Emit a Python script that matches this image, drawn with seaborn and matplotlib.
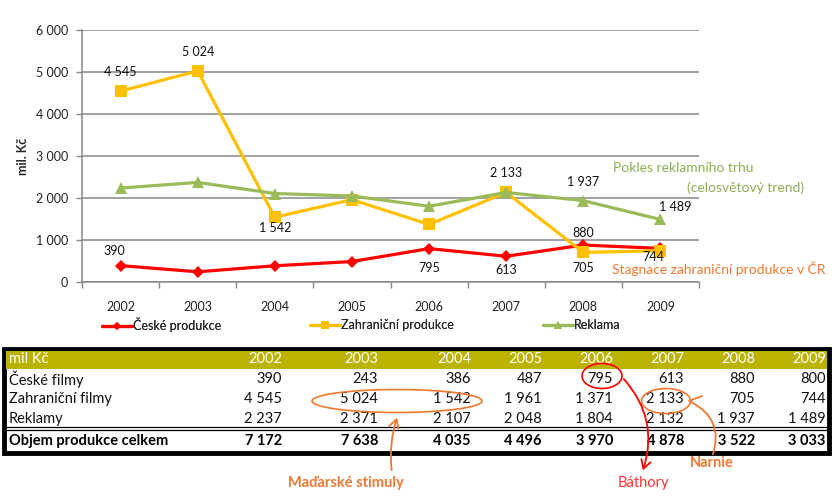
import matplotlib
matplotlib.use("Agg")
import matplotlib.pyplot as plt
from matplotlib.lines import Line2D
from matplotlib.patches import Ellipse, FancyArrowPatch, Rectangle
import numpy as np
import pandas as pd
import seaborn as sns

W, H = 837, 500

years = [2002, 2003, 2004, 2005, 2006, 2007, 2008, 2009]
ceske = [390, 243, 386, 487, 795, 613, 880, 800]
zahranicni = [4545, 5024, 1542, 1961, 1371, 2133, 705, 744]
reklama = [2237, 2371, 2107, 2048, 1804, 2132, 1937, 1489]
celkem = [7172, 7638, 4035, 4496, 3970, 4878, 3522, 3033]

series_names = ["České produkce", "Zahraniční produkce", "Reklama"]
row_names = ["České filmy", "Zahraniční filmy", "Reklamy"]
total_name = "Objem produkce celkem"
y_ticks = [0, 1000, 2000, 3000, 4000, 5000, 6000]

# (series, year index, dx px, dy px) for data labels
labels = [
    (1, 0, 0, 19), (1, 1, 0, 19), (1, 2, 0, -11), (1, 5, 0, 19),
    (1, 6, 0, -16), (1, 7, -7, -6),
    (2, 6, 0, 19), (2, 7, 15, 12),
    (0, 0, -6, 15), (0, 4, 0, -19), (0, 5, 0, -14), (0, 6, 0, 12),
]

RED, YEL, GRN = "#FF0000", "#FFC000", "#9BBB59"
GRID = "#878787"
ORANGE = "#F07830"
OLIVE = "#BBB300"


def fmt(v):
    return f"{v:,}".replace(",", " ")


def fx(x):
    return x / W


def fy(y):
    return 1 - y / H


sns.set_theme(style="white")
plt.rcParams["font.family"] = ["Lato", "DejaVu Sans"]

df = pd.DataFrame({
    "year": years * 3,
    "value": ceske + zahranicni + reklama,
    "series": np.repeat(series_names, len(years)),
})

fig = plt.figure(figsize=(W / 100, H / 100), dpi=100)
ax = fig.add_axes([fx(82), fy(282), (699 - 82) / W, 252 / H])

styles = [(RED, "D", 6.5), (YEL, "s", 8.5), (GRN, "^", 8.5)]
for name, (col, mk, ms) in zip(series_names, styles):
    sns.lineplot(data=df[df["series"] == name], x="year", y="value", ax=ax,
                 color=col, marker=mk, markersize=ms, markeredgewidth=0,
                 linewidth=2.3, legend=False)

FS = 9
ax.set_xlim(2001.5, 2009.5)
ax.set_ylim(0, 6000)
ax.set_yticks(y_ticks)
ax.set_yticklabels([fmt(v) for v in y_ticks], fontsize=FS)
ax.set_xticks(years)
ax.set_xticklabels([str(y) for y in years], fontsize=FS)
ax.set_xticks(np.arange(2001.5, 2010, 1), minor=True)
ax.tick_params(axis="x", which="major", length=0, pad=14, colors="#222222")
ax.tick_params(axis="x", which="minor", length=4, width=1, color=GRID,
               direction="out", bottom=True)
ax.tick_params(axis="y", length=4, width=1, color=GRID, pad=6, left=True,
               colors="#222222")
ax.grid(axis="y", color=GRID, linewidth=1.1)
ax.grid(axis="x", visible=False)
for s in ["top", "right"]:
    ax.spines[s].set_visible(False)
for s in ["left", "bottom"]:
    ax.spines[s].set_color(GRID)
    ax.spines[s].set_linewidth(1.1)
ax.set_xlabel("")
ax.set_ylabel("")
fig.text(fx(23), fy(156), "mil. Kč", rotation=90, fontsize=FS,
         fontweight="bold", ha="center", va="center")

data = [ceske, zahranicni, reklama]
for si, yi, dx, dy in labels:
    ax.annotate(fmt(data[si][yi]), (years[yi], data[si][yi]),
                xytext=(dx, dy), textcoords="offset pixels",
                ha="center", va="center", fontsize=FS, color="#111111",
                annotation_clip=False)

# legend
leg_x = [102, 310, 543]
for name, (col, mk, ms), lx in zip(series_names, styles, leg_x):
    h = Line2D([], [], color=col, marker=mk, markersize=ms * 0.7,
               markeredgewidth=0, linewidth=2.3)
    lg = fig.legend(handles=[h], labels=[name], loc="center left",
                    bbox_to_anchor=(fx(lx), fy(325)), frameon=False,
                    fontsize=FS, handlelength=2.4, handletextpad=0.1,
                    borderpad=0, borderaxespad=0)
    fig.add_artist(lg)

# side notes
NOTE = 10
fig.text(fx(613), fy(168), "Pokles reklamního trhu", fontsize=NOTE,
         color="#8DB050", ha="left", va="center")
fig.text(fx(804), fy(188), "(celosvětový trend)", fontsize=NOTE,
         color="#8DB050", ha="right", va="center")
fig.text(fx(612), fy(269), "Stagnace zahraniční produkce v ČR", fontsize=NOTE,
         color=ORANGE, ha="left", va="center")

# table
fig.add_artist(Rectangle((fx(4), fy(453)), (829 - 4) / W, (453 - 349) / H,
                         transform=fig.transFigure, facecolor="white",
                         edgecolor="black", linewidth=3.5, zorder=1))
fig.add_artist(Rectangle((fx(6), fy(369)), (827 - 6) / W, (369 - 351) / H,
                         transform=fig.transFigure, facecolor=OLIVE,
                         edgecolor="none", zorder=2))
for yy in [427, 430]:
    fig.add_artist(Line2D([fx(6), fx(827)], [fy(yy), fy(yy)],
                          transform=fig.transFigure, color="black",
                          linewidth=0.9, zorder=3))

col_x = [282, 378, 471, 542, 613, 684, 755, 826]
row_y = [379, 399, 419]
tkw = dict(fontsize=10.5, va="center", zorder=4)
fig.text(fx(9), fy(359), "mil Kč", color="white", ha="left", **tkw)
for x, y in zip(col_x, years):
    fig.text(fx(x), fy(359), str(y), color="white", ha="right", **tkw)
for name, vals, ry in zip(row_names, data, row_y):
    fig.text(fx(9), fy(ry), name, color="#111111", ha="left", **tkw)
    for x, v in zip(col_x, vals):
        fig.text(fx(x), fy(ry), fmt(v), color="#111111", ha="right", **tkw)
fig.text(fx(9), fy(441), total_name, color="black", ha="left",
         fontweight="bold", **tkw)
for x, v in zip(col_x, celkem):
    fig.text(fx(x), fy(441), fmt(v), color="black", ha="right",
             fontweight="bold", **tkw)

# annotation marks on the table
ekw = dict(transform=fig.transFigure, facecolor="none", linewidth=1.2,
           zorder=5)
fig.add_artist(Ellipse((fx(397), fy(401)), 170 / W, 23 / H,
                       edgecolor=ORANGE, **ekw))
fig.add_artist(Ellipse((fx(602), fy(376)), 40 / W, 25 / H,
                       edgecolor=RED, **ekw))
fig.add_artist(Ellipse((fx(666), fy(401)), 49 / W, 25 / H,
                       edgecolor=ORANGE, **ekw))

akw = dict(transform=fig.transFigure, linewidth=1.3, zorder=5,
           mutation_scale=10)
fig.add_artist(FancyArrowPatch((fx(392), fy(473)), (fx(398), fy(415)),
                               arrowstyle="->,head_length=0.6,head_width=0.35",
                               connectionstyle="arc3,rad=-0.12",
                               color=ORANGE, **akw))
fig.add_artist(FancyArrowPatch((fx(622), fy(377)), (fx(642), fy(473)),
                               arrowstyle="->,head_length=0.6,head_width=0.35",
                               connectionstyle="arc3,rad=-0.3",
                               color=RED, **akw))
fig.add_artist(FancyArrowPatch((fx(689), fy(401)), (fx(712), fy(457)),
                               arrowstyle="-",
                               connectionstyle="arc3,rad=-0.45",
                               color=ORANGE, **akw))
fig.add_artist(Line2D([fx(689), fx(702)], [fy(401), fy(396)],
                      transform=fig.transFigure, color=ORANGE,
                      linewidth=1.3, zorder=5))

fig.text(fx(346), fy(483), "Maďarské stimuly", fontsize=10.5,
         fontweight="bold", color=ORANGE, ha="center", va="center")
fig.text(fx(643), fy(483), "Báthory", fontsize=10.5, color="#FF3030",
         ha="center", va="center")
fig.text(fx(712), fy(463), "Narnie", fontsize=10.5, fontweight="bold",
         color=ORANGE, ha="center", va="center")

fig.savefig("out.png", dpi=100)
